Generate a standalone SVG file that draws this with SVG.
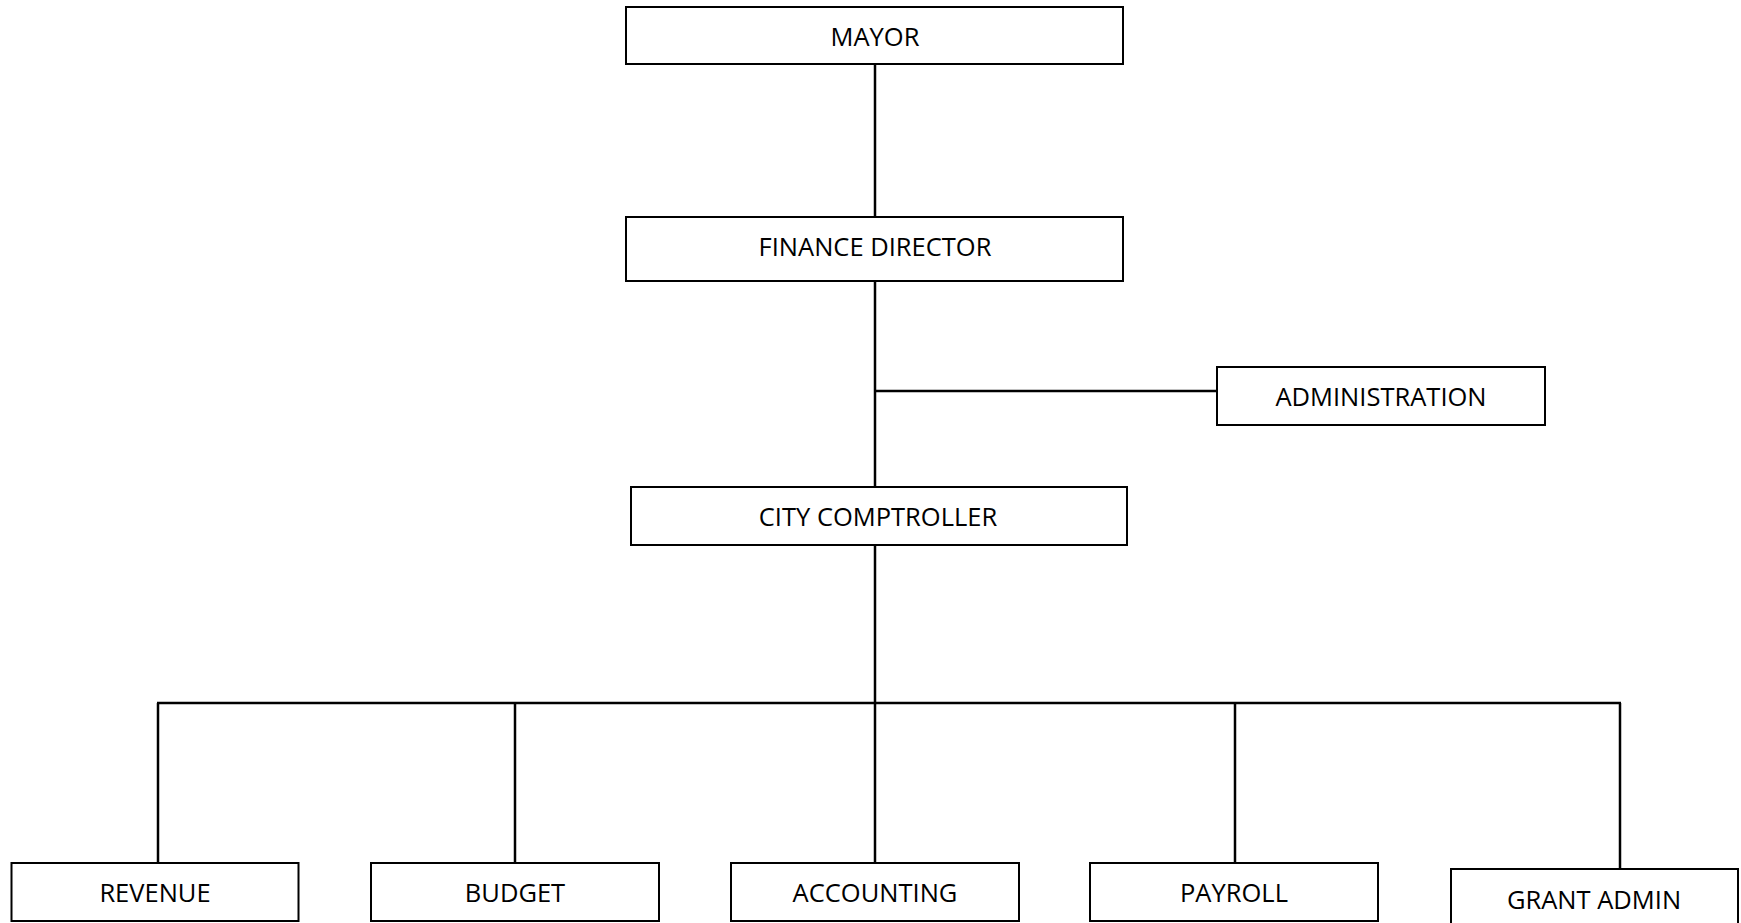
<svg xmlns="http://www.w3.org/2000/svg" width="1741" height="923" viewBox="0 0 1741 923">
<style>
.box{fill:#fff;stroke:#000;stroke-width:2}
.lbl{font-family:"Open Sans","Liberation Sans",sans-serif;font-size:25.5px;fill:#000;text-anchor:middle}
.conn{stroke:#000;stroke-width:2.5;fill:none}
</style>
<rect width="1741" height="923" fill="#fff"/>
<g id="connectors">
<path class="conn" d="M875 64 V217"/>
<path class="conn" d="M875 281 V487"/>
<path class="conn" d="M875 391 H1217"/>
<path class="conn" d="M875 545 V703"/>
<path class="conn" d="M157 703 H1621"/>
<path class="conn" d="M158 703 V863"/>
<path class="conn" d="M515 703 V863"/>
<path class="conn" d="M875 703 V863"/>
<path class="conn" d="M1235 703 V863"/>
<path class="conn" d="M1620 703 V869"/>
</g>
<g id="mayor"><rect class="box" x="626" y="7" width="497" height="57"/><text class="lbl" x="875" y="46">MAYOR</text></g>
<g id="finance-director"><rect class="box" x="626" y="217" width="497" height="64"/><text class="lbl" x="875" y="256">FINANCE DIRECTOR</text></g>
<g id="administration"><rect class="box" x="1217" y="367" width="328" height="58"/><text class="lbl" x="1381" y="406">ADMINISTRATION</text></g>
<g id="city-comptroller"><rect class="box" x="631" y="487" width="496" height="58"/><text class="lbl" x="878" y="526">CITY COMPTROLLER</text></g>
<g id="revenue"><rect class="box" x="11.5" y="863" width="287" height="58"/><text class="lbl" x="155" y="902">REVENUE</text></g>
<g id="budget"><rect class="box" x="371" y="863" width="288" height="58"/><text class="lbl" x="515" y="902">BUDGET</text></g>
<g id="accounting"><rect class="box" x="731" y="863" width="288" height="58"/><text class="lbl" x="875" y="902">ACCOUNTING</text></g>
<g id="payroll"><rect class="box" x="1090" y="863" width="288" height="58"/><text class="lbl" x="1234" y="902">PAYROLL</text></g>
<g id="grant-admin"><rect class="box" x="1451" y="869" width="287" height="62"/><text class="lbl" x="1594" y="909">GRANT ADMIN</text></g>
</svg>
